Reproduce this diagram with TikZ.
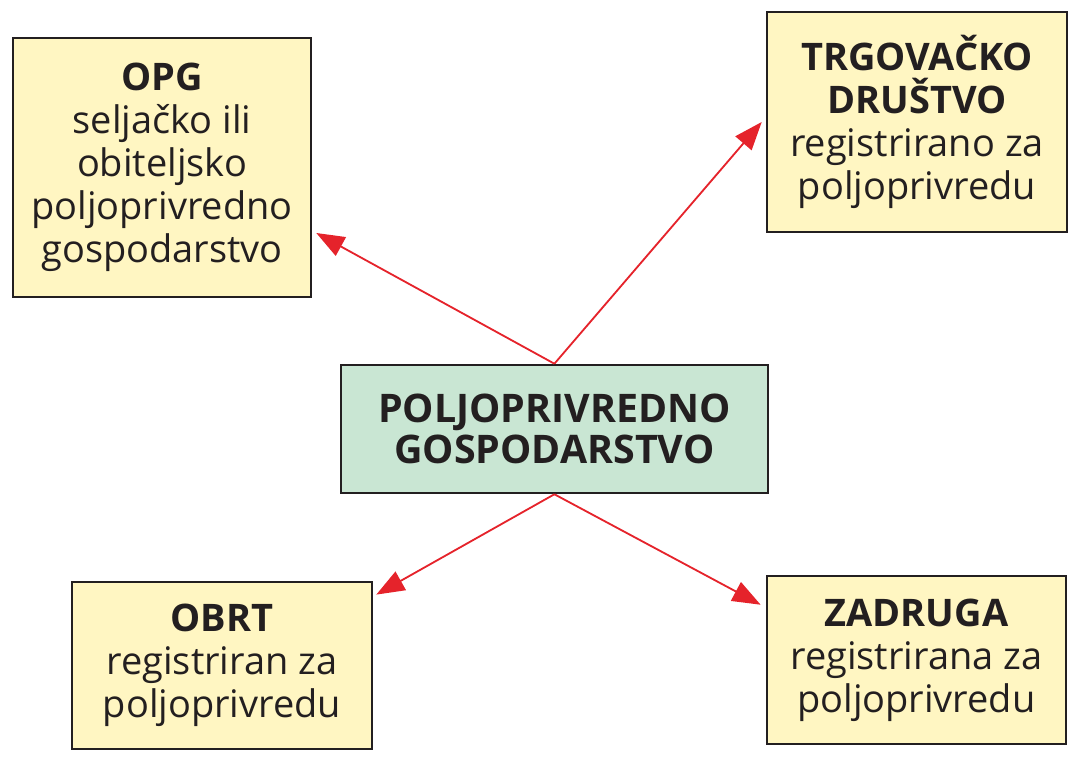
\documentclass[tikz,border=0pt]{standalone}
\usepackage{fontspec}
\setmainfont{Open Sans}
\usetikzlibrary{arrows.meta}
\definecolor{boxyellow}{HTML}{FFF6C2}
\definecolor{boxgreen}{HTML}{C9E6D3}
\definecolor{arrowred}{HTML}{E5232B}
\definecolor{inkdark}{HTML}{231F20}

\begin{document}
\begin{tikzpicture}[line width=1.8pt,>={Triangle[length=20pt,width=15pt]},
  box/.style={draw=inkdark,fill=boxyellow,align=center,text=inkdark,
    font=\fontsize{27}{30.6}\selectfont,inner sep=0pt},
  link/.style={->,draw=arrowred,line width=1.3pt,fill=arrowred}]
\useasboundingbox (0,0) rectangle (26.975,19.025);
% central box
\node[box,fill=boxgreen,minimum width=10.675cm,minimum height=3.2cm,
  font=\fontsize{28}{29}\selectfont\bfseries] (ctr) at (13.86,8.30)
  {POLJOPRIVREDNO\\GOSPODARSTVO};
% upper boxes
\node[box,minimum width=7.45cm,minimum height=6.475cm] (opg) at (4.05,14.84)
  {\textbf{OPG}\\seljačko ili\\obiteljsko\\poljoprivredno\\gospodarstvo};
\node[box,minimum width=7.5cm,minimum height=5.5cm] (trg) at (22.925,15.975)
  {\textbf{TRGOVAČKO}\\\textbf{DRUŠTVO}\\registrirano za\\poljoprivredu};
% lower boxes
\node[box,minimum width=7.5cm,minimum height=4.175cm] (obrt) at (5.55,2.39)
  {\textbf{OBRT}\\registriran za\\poljoprivredu};
\node[box,minimum width=7.475cm,minimum height=4.2cm] (zad) at (22.91,2.525)
  {\textbf{ZADRUGA}\\registrirana za\\poljoprivredu};
% arrows out of the central box
\draw[link] (ctr.north) -- ([xshift=0.1cm,yshift=-1.64cm]opg.east);
\draw[link] (ctr.north) -- ([xshift=-0.1cm]trg.west);
\draw[link] (ctr.south) -- ([xshift=0.075cm,yshift=-0.35cm]obrt.north east);
\draw[link] (ctr.south) -- ([xshift=-0.125cm,yshift=-0.75cm]zad.north west);
\end{tikzpicture}
\end{document}
